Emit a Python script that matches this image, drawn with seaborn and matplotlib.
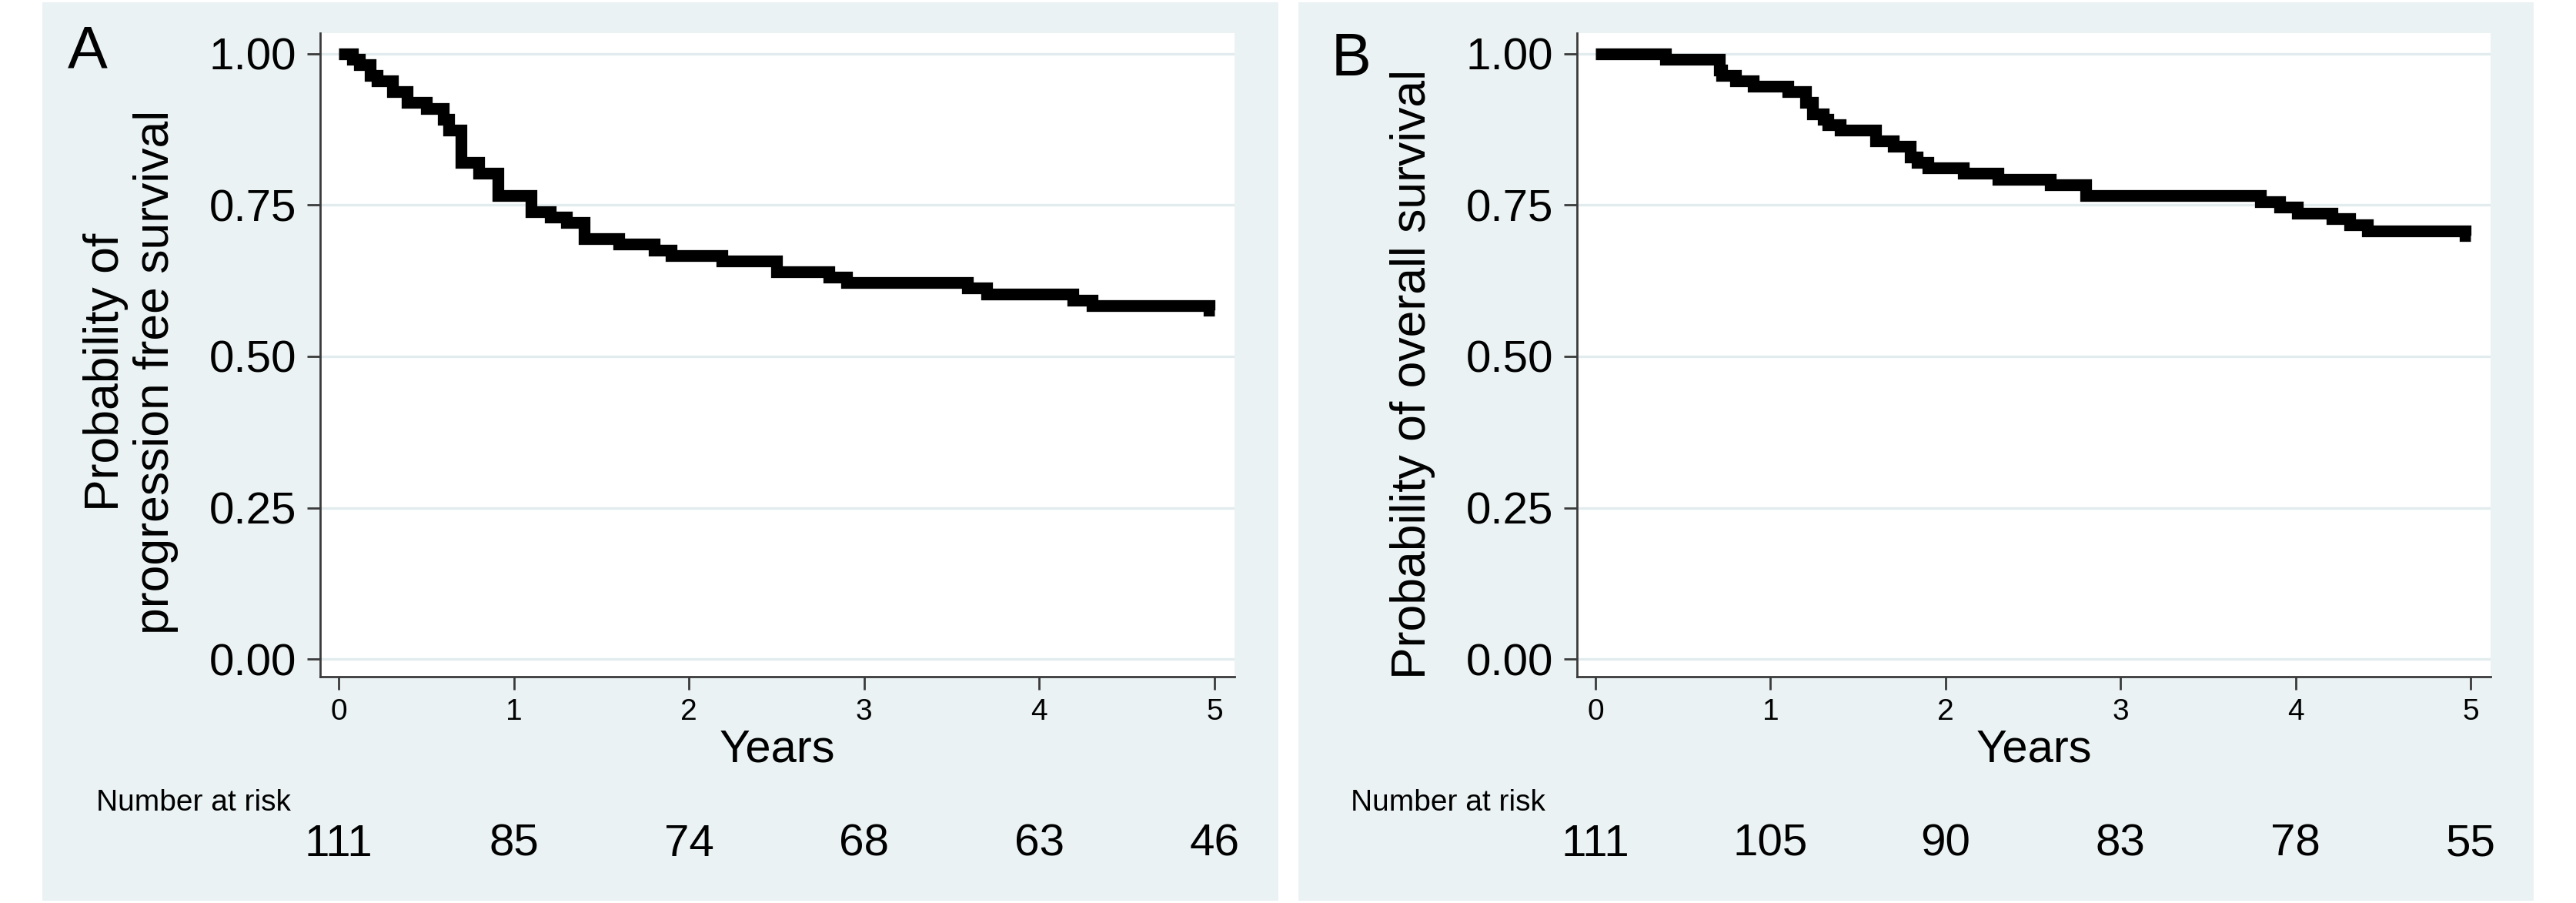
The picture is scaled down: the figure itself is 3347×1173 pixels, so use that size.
import pandas as pd
import matplotlib
matplotlib.use("Agg")
import matplotlib.pyplot as plt
import matplotlib.transforms as mtransforms
from matplotlib.patches import Rectangle
import seaborn as sns

# Kaplan-Meier estimates (years, survival probability)
pfs_years = [0, 0.08, 0.12, 0.18, 0.22, 0.31, 0.39, 0.50, 0.60, 0.63, 0.70, 0.80, 0.91,
             1.10, 1.21, 1.30, 1.40, 1.60, 1.80, 1.90, 2.19, 2.50, 2.80, 2.90, 3.59,
             3.70, 4.19, 4.30, 4.97, 5.00]
pfs_surv = [1.000, 0.991, 0.982, 0.964, 0.955, 0.937, 0.919, 0.910, 0.892, 0.874, 0.821,
            0.802, 0.766, 0.739, 0.730, 0.721, 0.694, 0.685, 0.676, 0.667, 0.658, 0.640,
            0.631, 0.622, 0.613, 0.603, 0.593, 0.584, 0.576, 0.576]

os_years = [0, 0.40, 0.71, 0.72, 0.80, 0.90, 1.10, 1.20, 1.24, 1.30, 1.33, 1.40, 1.60,
            1.70, 1.80, 1.84, 1.90, 2.10, 2.30, 2.60, 2.80, 3.80, 3.91, 4.01, 4.21,
            4.31, 4.41, 4.97, 5.00]
os_surv = [1.000, 0.991, 0.973, 0.964, 0.955, 0.946, 0.937, 0.919, 0.901, 0.892, 0.883,
           0.874, 0.856, 0.847, 0.829, 0.820, 0.811, 0.802, 0.793, 0.784, 0.766, 0.756,
           0.747, 0.737, 0.727, 0.717, 0.707, 0.699, 0.699]

risk_years = [0, 1, 2, 3, 4, 5]
pfs_at_risk = [111, 85, 74, 68, 63, 46]
os_at_risk = [111, 105, 90, 83, 78, 55]

y_ticks = [0, 0.25, 0.5, 0.75, 1.0]
y_ticklabels = ["0.00", "0.25", "0.50", "0.75", "1.00"]
x_ticks = [0, 1, 2, 3, 4, 5]

sns.set_theme(style="white")
plt.rcParams["font.family"] = ["Liberation Sans", "DejaVu Sans"]
plt.rcParams["text.color"] = "black"

W, H = 3348, 1173
fig = plt.figure(figsize=(W / 100, H / 100), dpi=100)
fig.patch.set_facecolor("white")

bg_col = "#EAF2F3"
grid_col = "#E2ECEE"
axis_col = "#3a3a3a"


def fx(px):
    return px / W


def fy(py):
    return 1 - py / H


panels = [
    dict(bg=(55, 1661), ax=(416, 1604), letter="A", letter_pos=(88, 88),
         ylabel="Probability of\nprogression free survival", ylabel_pos=(170, 483),
         nar_x=125, years=pfs_years, surv=pfs_surv, risk=pfs_at_risk),
    dict(bg=(1687, 3292), ax=(2049, 3236), letter="B", letter_pos=(1730, 98),
         ylabel="Probability of overall survival", ylabel_pos=(1836, 486),
         nar_x=1755, years=os_years, surv=os_surv, risk=os_at_risk),
]

for p in panels:
    b0, b1 = p["bg"]
    fig.patches.append(Rectangle((fx(b0), fy(1170)), fx(b1) - fx(b0), fy(3) - fy(1170),
                                 transform=fig.transFigure, facecolor=bg_col,
                                 edgecolor="none", zorder=-10))
    a0, a1 = p["ax"]
    ax = fig.add_axes([fx(a0), fy(879), fx(a1) - fx(a0), fy(43) - fy(879)])
    ax.set_zorder(1)
    ax.set_facecolor("white")

    for t in y_ticks:
        ax.axhline(t, color=grid_col, lw=2.4, zorder=0.5)

    df = pd.DataFrame({"Years": p["years"], "Survival": p["surv"]})
    sns.lineplot(data=df, x="Years", y="Survival", drawstyle="steps-post", color="black",
                 linewidth=11, estimator=None, sort=False, ax=ax,
                 solid_joinstyle="miter", solid_capstyle="butt", zorder=3)

    ax.set_xlim(-0.105, 5.114)
    ax.set_ylim(-0.029, 1.034)
    ax.set_xticks(x_ticks)
    ax.set_xticklabels([str(x) for x in x_ticks], fontsize=28)
    ax.set_yticks(y_ticks)
    ax.set_yticklabels(y_ticklabels, fontsize=42)
    ax.tick_params(axis="both", direction="out", length=12, width=2, color=axis_col,
                   left=True, bottom=True, labelcolor="black")
    ax.tick_params(axis="x", pad=8)
    ax.tick_params(axis="y", pad=10)
    ax.set_xlabel("")
    ax.set_ylabel("")
    for s in ["top", "right"]:
        ax.spines[s].set_visible(False)
    for s in ["left", "bottom"]:
        ax.spines[s].set_color(axis_col)
        ax.spines[s].set_linewidth(2)

    # panel letter, axis titles
    lx, ly = p["letter_pos"]
    fig.text(fx(lx), fy(ly), p["letter"], fontsize=56, ha="left", va="baseline")
    yx, yy = p["ylabel_pos"]
    fig.text(fx(yx), fy(yy), p["ylabel"], fontsize=45, rotation=90, ha="center",
             va="center", multialignment="center", linespacing=1.15)
    fig.text(fx((a0 + a1) / 2), fy(990), "Years", fontsize=43, ha="center", va="baseline")

    # number at risk table
    fig.text(fx(p["nar_x"]), fy(1053), "Number at risk", fontsize=28, ha="left",
             va="baseline")
    trans = mtransforms.blended_transform_factory(ax.transData, fig.transFigure)
    for yr, n in zip(risk_years, p["risk"]):
        ax.text(yr, fy(1112), str(n), fontsize=42, ha="center", va="baseline",
                transform=trans, clip_on=False)

fig.savefig("out.png", dpi=100, facecolor=fig.get_facecolor())
